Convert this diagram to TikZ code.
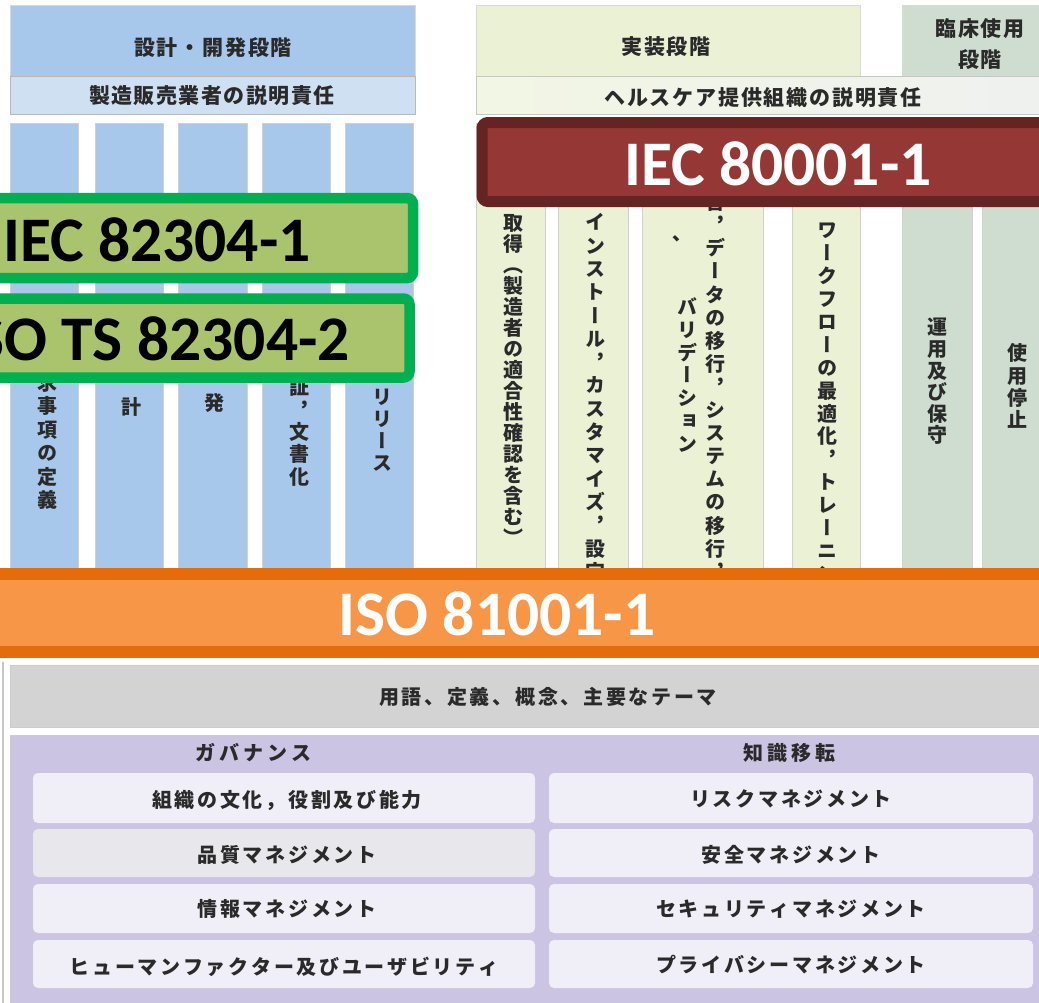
\documentclass[tikz,border=0pt]{standalone}
\usepackage{fontspec}
\newfontfamily\jp{Noto Sans CJK JP}
\newfontfamily\jpv[RawFeature=+vert]{Noto Sans CJK JP}
\newfontfamily\calfont{Carlito}
\definecolor{bluec}{HTML}{A7C8EA}
\definecolor{bluel}{HTML}{CFE0F2}
\definecolor{ygc}{HTML}{EBF1D5}
\definecolor{ggc}{HTML}{CFDDD1}
\definecolor{subl}{HTML}{F2F6E4}
\definecolor{subr}{HTML}{EFF1EF}
\definecolor{grnb}{HTML}{00B050}
\definecolor{grnf}{HTML}{A9C46C}
\definecolor{redb}{HTML}{652323}
\definecolor{redf}{HTML}{953735}
\definecolor{orb}{HTML}{E46C0A}
\definecolor{orf}{HTML}{F79646}
\definecolor{grayband}{HTML}{D3D3D3}
\definecolor{lav}{HTML}{CCC4E3}
\definecolor{boxw}{HTML}{F0EFF8}
\definecolor{boxg}{HTML}{E8E8EC}
\definecolor{txt}{HTML}{2A2A2A}
\makeatletter
\newcommand\vstack[2]{\vbox{\offinterlineskip\@tfor\vch:=#2\do{\hbox to 1em{\hss\vrule height \dimexpr#1/2+7.6pt\relax depth \dimexpr#1/2-7.6pt\relax width 0pt\vch\hss}}}}
\newcommand\spaced[2]{\@tfor\sch:=#2\do{\sch\kern#1}\kern-#1\relax}
\makeatother
\begin{document}
\begin{tikzpicture}[x=1pt,y=-1pt,
  hdrbox/.style={draw=black!15,line width=0.6pt},
  colbox/.style={draw=black!18,line width=0.6pt},
  hdrtxt/.style={font=\jp\bfseries\fontsize{21}{31}\selectfont,text=txt,inner sep=0,anchor=base,align=center},
  vtxt/.style={font=\jpv\bfseries\fontsize{20}{20}\selectfont,text=txt,inner sep=0,anchor=north},
  btxt/.style={font=\jp\bfseries\fontsize{20}{20}\selectfont,text=txt,inner sep=0,anchor=base},
  bigtxt/.style={font=\calfont\bfseries\fontsize{63.5}{63.5}\selectfont,inner sep=0},
  grnbar/.style={draw=grnb,fill=grnf,line width=10.5pt,rounded corners=6pt},
  redbar/.style={draw=redb,fill=redf,line width=11pt,rounded corners=6pt},
  orbar/.style={draw=orb,fill=orf,line width=12pt},
  itembox/.style={fill=boxw,rounded corners=5pt}]
\clip (0,0) rectangle (1039,1002);
\fill[white] (0,0) rectangle (1039,1002);
% ---------- headers ----------
\filldraw[hdrbox,fill=bluec] (10,5) rectangle (415,76);
\filldraw[draw=black!28,line width=0.7pt,fill=bluel] (10,76) rectangle (415,114);
\filldraw[hdrbox,fill=ygc] (476,5) rectangle (860,76);
\filldraw[hdrbox,fill=ggc] (902,5) rectangle (1045,76);
\shade[left color=subl,right color=subr] (476,76) rectangle (1045,114);
\draw[draw=black!22,line width=0.7pt] (476,76) rectangle (1045,114);
\node[hdrtxt] (h1) at (213,55) {\spaced{1.8pt}{設計・開発段階}};
\node[hdrtxt] (h2) at (212,103) {\spaced{1.5pt}{製造販売業者の説明責任}};
\node[hdrtxt] (h3) at (666,54) {\spaced{1.8pt}{実装段階}};
\node[hdrtxt] (h4) at (980,67) {\spaced{1.8pt}{臨床使用}\\\spaced{1.8pt}{段階}};
\node[hdrtxt] (h5) at (763,105) {\spaced{1.8pt}{ヘルスケア提供組織の説明責任}};
% ---------- columns ----------
\filldraw[colbox,fill=bluec] (10,123) rectangle (78,568);
\filldraw[colbox,fill=bluec] (95,123) rectangle (163,568);
\filldraw[colbox,fill=bluec] (178,123) rectangle (247,568);
\filldraw[colbox,fill=bluec] (262,123) rectangle (330,568);
\filldraw[colbox,fill=bluec] (345,123) rectangle (413,568);
\filldraw[colbox,fill=ygc] (476,123) rectangle (545,568);
\filldraw[colbox,fill=ygc] (558,123) rectangle (628,568);
\filldraw[colbox,fill=ygc] (642,123) rectangle (763,568);
\filldraw[colbox,fill=ygc] (792,123) rectangle (860,568);
\filldraw[colbox,fill=ggc] (902,123) rectangle (972,568);
\filldraw[colbox,fill=ggc] (982,123) rectangle (1045,568);
\node[vtxt] (c1) at (47,370.75) {\vstack{23.5pt}{求事項の定義}};
\node[vtxt] (c2) at (131,395.5) {\vstack{23pt}{計}};
\node[vtxt] (c3) at (214,391.5) {\vstack{23pt}{発}};
\node[vtxt] (c4) at (299,375.85) {\vstack{22.3pt}{証，文書化}};
\node[vtxt] (c5) at (382,386) {\vstack{22pt}{リリース}};
\node[vtxt] (cA) at (513,212.5) {\vstack{21pt}{取得（製造者の適合性確認を含む）}};
\node[vtxt] (cB) at (595,210.35) {\vstack{23.3pt}{インストール，カスタマイズ，設定}};
\node[vtxt] (cC1) at (715,190.25) {\vstack{23.1pt}{合，データの移行，システムの移行，}};
\node[vtxt] (cC2) at (687,295.65) {\vstack{22.7pt}{バリデーション}};
\node[vtxt,anchor=center] (cC3) at (670,244) {、};
\node[vtxt] (cD) at (827,195.65) {\vstack{22.9pt}{，ワークフローの最適化，トレーニング}};
\node[vtxt] (cE) at (937,316.2) {\vstack{21.6pt}{運用及び保守}};
\node[vtxt] (cF) at (1017,341.85) {\vstack{22.3pt}{使用停止}};
% ---------- standard bars ----------
\draw[grnbar] (-30,198) rectangle (413,278);
\node[bigtxt,anchor=base west,text=black] (s1) at (3,261) {IEC 82304-1};
\draw[grnbar] (-30,298.5) rectangle (409.5,377.5);
\node[bigtxt,anchor=base east,text=black] (s2) at (350,360) {ISO TS 82304-2};
\draw[redbar] (482,122.5) rectangle (1070,201.5);
\node[bigtxt,anchor=base,text=white] (s3) at (778,185) {IEC 80001-1};
\draw[orbar] (-30,574) rectangle (1070,651.5);
\node[bigtxt,anchor=base,text=white] (s4) at (497,635) {ISO 81001-1};
% ---------- bottom part ----------
\draw[black!22,line width=1.2pt] (3,662) -- (3,1010);
\filldraw[fill=grayband,draw=black!20,line width=0.8pt] (10,665) rectangle (1045,727);
\node[btxt] (b0) at (548,704.6) {\spaced{2.7pt}{用語、定義、概念、主要なテーマ}};
\filldraw[fill=lav,draw=black!20,line width=0.8pt] (10,735) rectangle (1045,1010);
\node[btxt] (g1) at (253,760) {\spaced{4pt}{ガバナンス}};
\node[btxt] (g2) at (789,760) {\spaced{4pt}{知識移転}};
\fill[itembox] (33,773) rectangle (535,823);
\fill[itembox,fill=boxg] (33,829) rectangle (535,877);
\fill[itembox] (33,884) rectangle (535,933);
\fill[itembox] (33,940) rectangle (535,988);
\fill[itembox] (549,773) rectangle (1033,823);
\fill[itembox] (549,829) rectangle (1033,877);
\fill[itembox] (549,884) rectangle (1033,933);
\fill[itembox] (549,940) rectangle (1033,988);
\node[btxt] (l1) at (287,807) {\spaced{2.7pt}{組織の文化，役割及び能力}};
\node[btxt] (l2) at (287,862) {\spaced{2.7pt}{品質マネジメント}};
\node[btxt] (l3) at (287,916.5) {\spaced{2.7pt}{情報マネジメント}};
\node[btxt] (l4) at (284,974) {\spaced{2.7pt}{ヒューマンファクター及びユーザビリティ}};
\node[btxt] (r1) at (791,806) {\spaced{2.7pt}{リスクマネジメント}};
\node[btxt] (r2) at (791,862) {\spaced{2.7pt}{安全マネジメント}};
\node[btxt] (r3) at (791,916.5) {\spaced{2.7pt}{セキュリティマネジメント}};
\node[btxt] (r4) at (791,972) {\spaced{2.7pt}{プライバシーマネジメント}};
\end{tikzpicture}
\end{document}
